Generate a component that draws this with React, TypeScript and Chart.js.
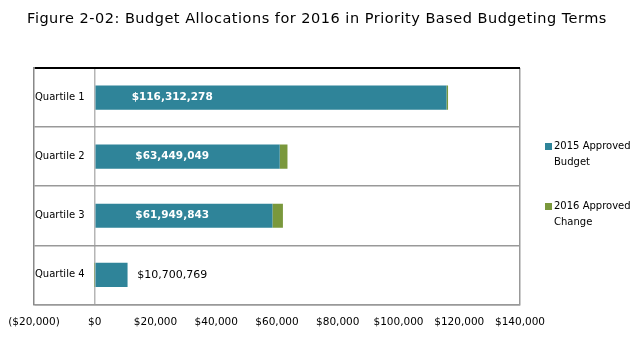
import React, { useEffect, useRef } from "react";
import { Chart, registerables } from "chart.js";

Chart.register(...registerables);

const TITLE = "Figure 2-02: Budget Allocations for 2016 in Priority Based Budgeting Terms";
const categories = ["Quartile 1", "Quartile 2", "Quartile 3", "Quartile 4"];
// values in thousands of dollars
const budget2015 = [115800, 60900, 58500, 10800];
const change2016 = [512, 2549, 3450, -100];
const totalLabels = ["$116,312,278", "$63,449,049", "$61,949,843", "$10,700,769"];
const labelInside = [true, true, true, false];
const seriesNames = [["2015 Approved", "Budget"], ["2016 Approved", "Change"]];
const seriesColors = ["#2f8499", "#7a983c"];
const X_MIN = -20000;
const X_MAX = 140000;
const X_STEP = 20000;
const LABEL_ANCHOR = 25500;

const FONT = "'DejaVu Sans', sans-serif";

function fmt(v: number) {
  const s = "$" + Math.abs(v).toLocaleString("en-US");
  return v < 0 ? "(" + s + ")" : s;
}

const overlay = {
  id: "overlay",
  afterDatasetsDraw(chart: any) {
    const ctx = chart.ctx;
    const xs = chart.scales.x;
    const ys = chart.scales.y;
    ctx.save();
    ctx.textBaseline = "middle";
    ctx.textAlign = "center";
    categories.forEach((_, i) => {
      const y = ys.getPixelForValue(i);
      const x = xs.getPixelForValue(LABEL_ANCHOR);
      if (labelInside[i]) {
        ctx.fillStyle = "#ffffff";
        ctx.font = `bold 10.5px ${FONT}`;
      } else {
        ctx.fillStyle = "#000000";
        ctx.font = `11px ${FONT}`;
      }
      ctx.fillText(totalLabels[i], x, y);
    });
    ctx.restore();
  },
  afterDraw(chart: any) {
    const ctx = chart.ctx;
    const area = chart.chartArea;
    ctx.save();
    // title
    ctx.fillStyle = "#000";
    ctx.font = `14.5px ${FONT}`;
    (ctx as any).letterSpacing = "0.5px";
    ctx.textAlign = "center";
    ctx.textBaseline = "middle";
    ctx.fillText(TITLE, chart.width / 2 - 3, 19);
    (ctx as any).letterSpacing = "0px";
    // legend
    ctx.font = `10px ${FONT}`;
    ctx.textAlign = "left";
    const lx = area.right + 25;
    const starts = [146, 206];
    seriesNames.forEach((lines, k) => {
      const y0 = starts[k];
      ctx.fillStyle = seriesColors[k];
      ctx.fillRect(lx, y0 - 3, 7, 7);
      ctx.fillStyle = "#000";
      lines.forEach((t, j) => {
        ctx.fillText(t, lx + 9, y0 + j * 16);
      });
    });
    ctx.restore();
  },
};

export default function App() {
  const ref = useRef<HTMLCanvasElement | null>(null);
  useEffect(() => {
    document.body.style.margin = "0";
    const chart = new Chart(ref.current as HTMLCanvasElement, {
      type: "bar",
      data: {
        labels: categories,
        datasets: [
          {
            label: seriesNames[0].join(" "),
            data: budget2015,
            backgroundColor: seriesColors[0],
            barPercentage: 0.41,
            categoryPercentage: 1,
          },
          {
            label: seriesNames[1].join(" "),
            data: change2016,
            backgroundColor: seriesColors[1],
            barPercentage: 0.41,
            categoryPercentage: 1,
          },
        ],
      },
      options: {
        indexAxis: "y",
        animation: false,
        responsive: false,
        devicePixelRatio: 1,
        layout: { padding: { left: 32, right: 120, top: 68, bottom: 4 } },
        plugins: {
          legend: { display: false },
          title: { display: false },
          tooltip: { enabled: false },
        },
        scales: {
          x: {
            stacked: true,
            min: X_MIN,
            max: X_MAX,
            afterFit: (s: any) => {
              s.paddingLeft = 0;
              s.paddingRight = 0;
            },
            ticks: {
              stepSize: X_STEP,
              color: "#000",
              font: { family: FONT, size: 10.5 },
              padding: 12,
              maxRotation: 0,
              callback: (v: any) => fmt(Number(v)),
            },
            grid: {
              drawTicks: false,
              color: (c: any) =>
                c.tick && c.tick.value === 0
                  ? "#b5b5b5"
                  : c.tick && c.tick.value === X_MAX
                  ? "#999999"
                  : "rgba(0,0,0,0)",
              lineWidth: 1.5,
            },
            border: { display: true, color: "#999999", width: 1.5 },
          },
          y: {
            stacked: true,
            ticks: {
              mirror: true,
              padding: 1,
              color: "#000",
              font: { family: FONT, size: 10 },
            },
            grid: {
              offset: true,
              drawTicks: false,
              color: (c: any) => (c.index === 0 ? "#000000" : "#999999"),
              lineWidth: (c: any) => (c.index === 0 ? 2 : 1.5),
            },
            border: { display: true, color: "#888888", width: 1.5 },
          },
        },
      },
      plugins: [overlay],
    } as any);
    return () => chart.destroy();
  }, []);
  return (
    <div style={{ width: 640, height: 345 }}>
      <canvas ref={ref} width={640} height={345} />
    </div>
  );
}
